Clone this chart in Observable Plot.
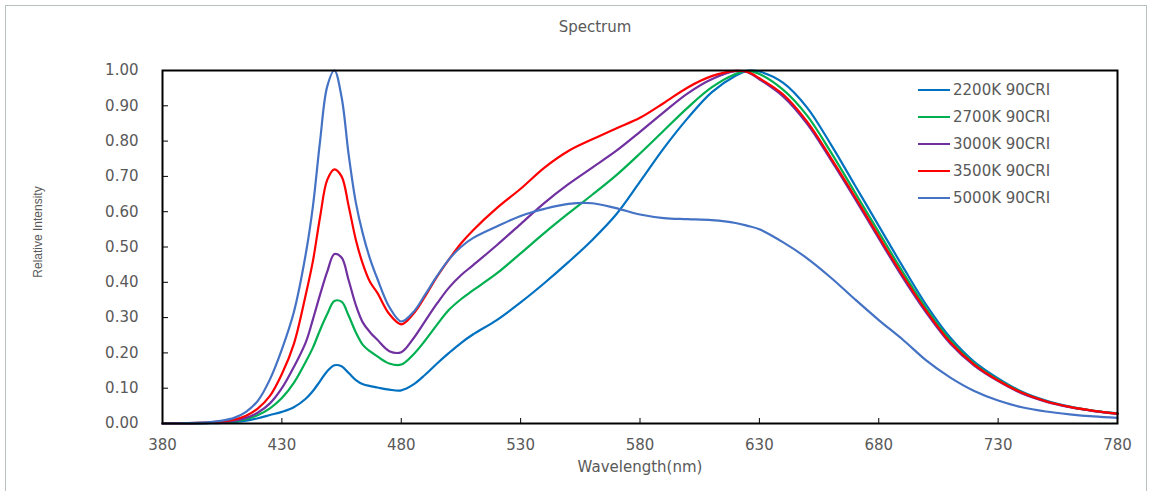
<!DOCTYPE html>
<html><head><meta charset="utf-8">
<script src="https://cdn.jsdelivr.net/npm/d3@7"></script>
<script src="https://cdn.jsdelivr.net/npm/@observablehq/plot@0.6"></script>
<style>
body{margin:0;background:#fff;}
#wrap{position:relative;width:1151px;height:491px;overflow:hidden;font-family:"DejaVu Sans",sans-serif;}
#border{position:absolute;left:5px;top:5px;width:1142px;height:500px;border:1px solid #B7C0C0;box-sizing:border-box;}
#title{position:absolute;left:0;width:1190px;top:18px;text-align:center;font-size:15px;color:#595959;}
#legend{position:absolute;left:918px;top:76.5px;}
.item{display:flex;align-items:center;height:27px;font-size:15px;color:#595959;}
.sw{display:inline-block;width:32px;height:2px;margin-right:3px;}
#chart{position:absolute;left:0;top:0;}
</style></head>
<body><div id="wrap"><div id="border"></div><div id="chart"></div><div id="title">Spectrum</div><div id="legend"></div></div>
<script>
const wavelengths = [380,390,400,405,410,415,420,425,430,435,440,443,446,449,452,455,458,461,464,467,470,475,480,485,490,495,500,505,510,520,530,540,550,560,570,580,590,600,610,620,625,630,640,650,660,670,680,690,700,710,720,730,740,750,760,770,780];
const s2200 = [0,0.0003,0.001,0.002,0.004,0.008,0.015,0.024,0.033,0.046,0.07,0.092,0.12,0.148,0.165,0.162,0.143,0.123,0.111,0.106,0.102,0.096,0.094,0.11,0.138,0.17,0.2,0.228,0.252,0.293,0.343,0.398,0.457,0.52,0.592,0.685,0.78,0.865,0.938,0.985,0.999,0.997,0.965,0.895,0.79,0.675,0.56,0.445,0.335,0.243,0.175,0.128,0.09,0.065,0.048,0.036,0.029];
const s2700 = [0,0.0005,0.0015,0.003,0.006,0.012,0.024,0.043,0.072,0.115,0.175,0.215,0.265,0.31,0.347,0.345,0.305,0.258,0.222,0.204,0.19,0.17,0.167,0.195,0.235,0.28,0.322,0.352,0.377,0.425,0.482,0.54,0.595,0.648,0.703,0.765,0.83,0.895,0.952,0.99,0.999,0.99,0.945,0.872,0.768,0.655,0.542,0.43,0.325,0.236,0.17,0.124,0.088,0.063,0.047,0.036,0.028];
const s3000 = [0,0.0005,0.002,0.004,0.008,0.016,0.031,0.057,0.1,0.16,0.23,0.295,0.365,0.43,0.48,0.47,0.405,0.335,0.285,0.258,0.237,0.205,0.202,0.24,0.29,0.34,0.385,0.42,0.448,0.505,0.565,0.625,0.678,0.725,0.772,0.826,0.882,0.935,0.975,0.998,0.995,0.975,0.926,0.849,0.746,0.637,0.524,0.414,0.313,0.226,0.164,0.12,0.085,0.062,0.046,0.035,0.027];
const s3500 = [0,0.001,0.003,0.006,0.011,0.022,0.043,0.078,0.14,0.225,0.365,0.46,0.585,0.69,0.72,0.7,0.615,0.52,0.45,0.4,0.37,0.31,0.281,0.31,0.36,0.416,0.465,0.51,0.547,0.61,0.665,0.725,0.772,0.805,0.836,0.866,0.908,0.952,0.984,0.999,0.996,0.978,0.932,0.855,0.752,0.643,0.53,0.42,0.318,0.23,0.167,0.122,0.087,0.063,0.047,0.036,0.028];
const s5000 = [0,0.001,0.004,0.008,0.016,0.033,0.065,0.125,0.21,0.315,0.48,0.615,0.8,0.955,1,0.925,0.76,0.625,0.535,0.465,0.41,0.33,0.289,0.315,0.365,0.418,0.465,0.5,0.525,0.558,0.588,0.608,0.622,0.624,0.61,0.592,0.582,0.579,0.576,0.568,0.56,0.55,0.513,0.468,0.413,0.352,0.293,0.238,0.178,0.13,0.092,0.065,0.046,0.034,0.026,0.02,0.016];
const seriesNames = ["2200K 90CRI","2700K 90CRI","3000K 90CRI","3500K 90CRI","5000K 90CRI"];
const seriesColors = ["#0070C0","#00B050","#7030A0","#FF0000","#4472C4"];
const xTicks = [380,430,480,530,580,630,680,730,780];
const yTicks = [0,0.1,0.2,0.3,0.4,0.5,0.6,0.7,0.8,0.9,1.0];
const seriesValues = [s2200,s2700,s3000,s3500,s5000];

const rows = [];
seriesNames.forEach((name, i) => {
  wavelengths.forEach((w, j) => rows.push({s: name, w, v: seriesValues[i][j]}));
});

const chart = Plot.plot({
  width: 1151, height: 491,
  marginLeft: 162, marginRight: 34, marginTop: 70, marginBottom: 68,
  style: {fontFamily: "DejaVu Sans", fontSize: "15px", color: "#595959", background: "transparent", overflow: "visible"},
  x: {domain: [380, 780]},
  y: {domain: [0, 1]},
  color: {domain: seriesNames, range: seriesColors},
  marks: [
    Plot.line(rows, {x: "w", y: "v", z: "s", stroke: "s", strokeWidth: 2.2, curve: "catmull-rom"}),
    Plot.frame({stroke: "#000", strokeWidth: 2}),
    Plot.axisX({ticks: xTicks, tickSize: -5, tickPadding: 21, label: null, stroke: "#000", fill: "#595959", fontSize: 15}),
    Plot.axisY({ticks: yTicks, tickFormat: d3.format(".2f"), tickSize: -6, tickPadding: 30, label: null, stroke: "#000", fill: "#595959", fontSize: 15}),
    Plot.text(["Wavelength(nm)"], {frameAnchor: "bottom", lineAnchor: "middle", dy: 44, fill: "#595959", fontSize: 15}),
    Plot.text(["Relative Intensity"], {frameAnchor: "left", textAnchor: "middle", lineAnchor: "middle", rotate: -90, dx: -124, dy: -15, fill: "#595959", fontSize: 12, fontFamily: "Liberation Sans, Arial, sans-serif"})
  ]
});
document.getElementById("chart").appendChild(chart);

const legend = document.getElementById("legend");
seriesNames.forEach((name, i) => {
  const item = document.createElement("div");
  item.className = "item";
  const sw = document.createElement("span");
  sw.className = "sw";
  sw.style.background = seriesColors[i];
  item.appendChild(sw);
  item.appendChild(document.createTextNode(name));
  legend.appendChild(item);
});
</script>
</body></html>
